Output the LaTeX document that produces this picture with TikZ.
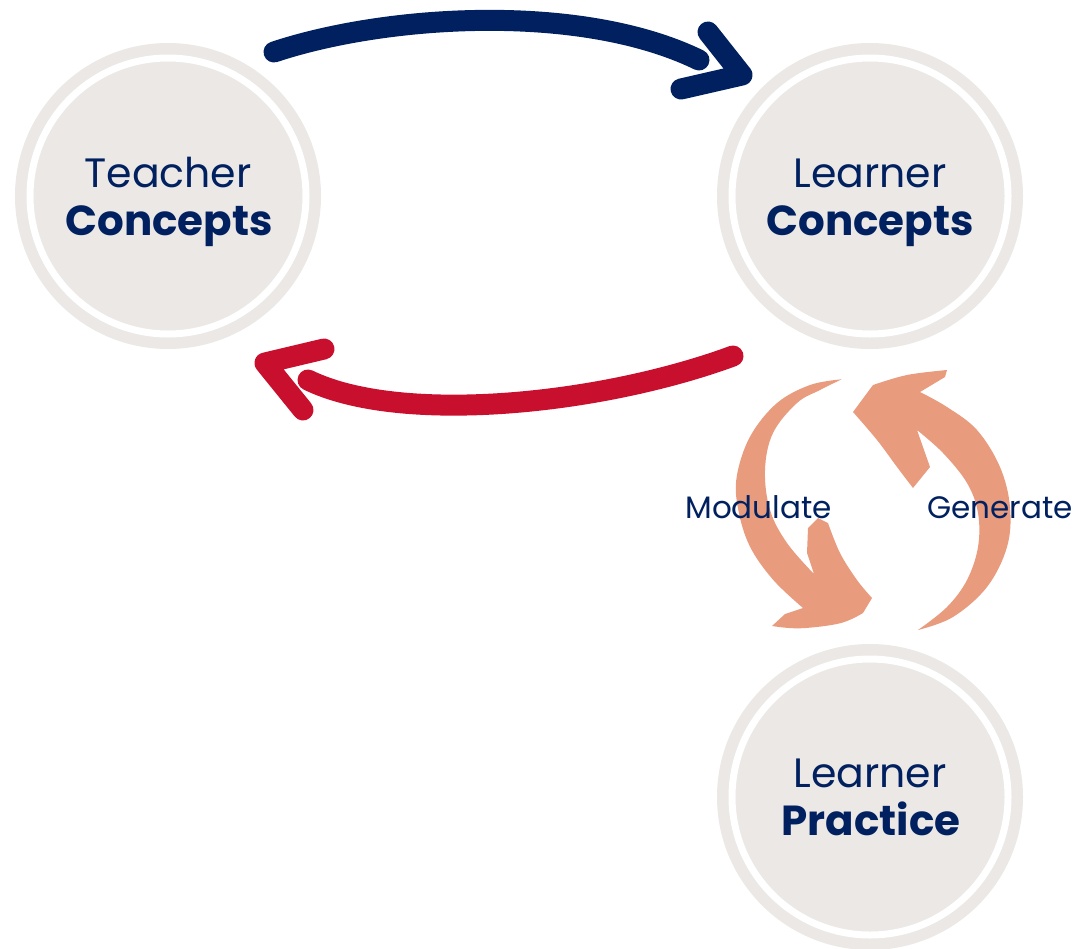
\documentclass[tikz,border=0pt]{standalone}
\usepackage{fontspec}
\setmainfont{Poppins}
\definecolor{navy}{HTML}{00205F}
\definecolor{crim}{HTML}{C8102E}
\definecolor{salmon}{HTML}{E99B7E}
\definecolor{disk}{HTML}{EBE8E5}
\begin{document}
\begin{tikzpicture}[x=1pt,y=-1pt,
  bubble/.style={circle, fill=disk, minimum size=306pt, inner sep=0pt},
  gapring/.style={draw=white, line width=7pt},
  light/.style={anchor=base, text=navy, font=\fontsize{41}{45}\selectfont, inner sep=0pt},
  heavy/.style={anchor=base, text=navy, font=\fontsize{42}{46}\selectfont\bfseries, inner sep=0pt},
  lab/.style={text=navy, font=\fontsize{31}{34}\selectfont, inner sep=0pt},
  bluestroke/.style={draw=navy, line width=21pt, line cap=round, line join=round},
  redstroke/.style={draw=crim, line width=21pt, line cap=round, line join=round},
  swirl/.style={fill=salmon}]
\useasboundingbox (0,0) rectangle (1073,948);
% circles
\node[bubble] (tc) at (168,196) {};
\draw[gapring] (tc.center) circle[radius=138];
\node[bubble] (lc) at (870,196) {};
\draw[gapring] (lc.center) circle[radius=138];
\node[bubble] (lp) at (870,797) {};
\draw[gapring] (lp.center) circle[radius=138];
% texts
\node[light] (tc1) at (168,187) {Teacher};
\node[heavy] (tc2) at (169,235) {Concepts};
\node[light] (lc1) at (870,187) {Learner};
\node[heavy] (lc2) at (870,235) {Concepts};
\node[light] (lp1) at (870,787) {Learner};
\node[heavy] (lp2) at (871,835) {Practice};
% blue arrow
\coordinate (b1) at (274,52);
\coordinate (b2) at (699,60);
\coordinate (bh1) at (708,32);
\coordinate (bh2) at (742,75);
\coordinate (bh3) at (681,89);
\draw[bluestroke] (b1) .. controls (385,15) and (580,2) .. (b2);
\draw[bluestroke] (bh1) -- (bh2) -- (bh3);
% red arrow
\coordinate (r1) at (733,356);
\coordinate (r2) at (308,380);
\coordinate (rh1) at (324,349);
\coordinate (rh2) at (265,363);
\coordinate (rh3) at (303,410);
\draw[redstroke] (r1) .. controls (600,405) and (400,425) .. (r2);
\draw[redstroke] (rh1) -- (rh2) -- (rh3);
% modulate swirl
\fill[swirl] (841.7,379.3) -- plot[smooth,tension=0.6] coordinates {(841.7,379.3) (810,385) (776.7,403.3) (750,436.7) (736.7,476.7) (738.3,510) (750,546.7) (773.3,580) (803,608)}
  -- (785,614) -- (772,626)
  -- plot[smooth,tension=0.6] coordinates {(772,626) (800,628.3) (840,623.3) (863,613)}
  -- (872,598)
  -- plot[smooth,tension=0.6] coordinates {(872,598) (857,580) (840,553) (828,523)}
  -- (818,518) -- (808,528) -- (807,553) -- (814,574)
  -- plot[smooth,tension=0.6] coordinates {(814,574) (787,543) (770,510) (765,470) (773,433) (797,403) (820,390) (841.7,379.3)} -- cycle;
% generate swirl
\fill[swirl] (918,630) -- plot[smooth,tension=0.6] coordinates {(918,630) (953,617) (987,587) (1007,547) (1010,507) (1000,467) (977,430) (947,407) (920,392)}
  -- (945,377) -- (947,370)
  -- plot[smooth,tension=0.6] coordinates {(947,370) (907,375) (873,385)}
  -- (853,412)
  -- plot[smooth,tension=0.6] coordinates {(853,412) (877,440) (897,467) (913,488)}
  -- (930,467) -- (917,430)
  -- plot[smooth,tension=0.6] coordinates {(917,430) (943,453) (967,483) (978,513) (978,547) (967,580) (947,607) (918,630)} -- cycle;
% labels
\node[lab, anchor=base east] (mod) at (832,518) {Modulate};
\node[lab, anchor=base west] (gen) at (927,518) {Generate};
\end{tikzpicture}
\end{document}
